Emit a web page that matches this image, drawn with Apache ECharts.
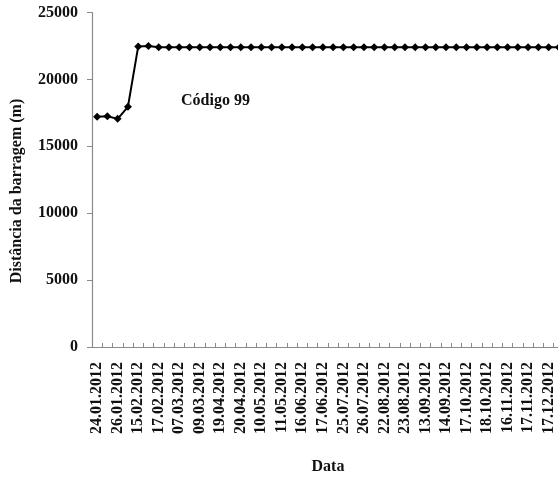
<!DOCTYPE html>
<html>
<head>
<meta charset="utf-8">
<script src="https://cdn.jsdelivr.net/npm/echarts@6/dist/echarts.min.js"></script>
<style>
  html, body { margin: 0; padding: 0; background: #fff; }
  #chart { width: 558px; height: 477px; }
</style>
</head>
<body>
<div id="chart"></div>
<script>
// Dates printed under the axis (every second sampling date carries a label)
const dateLabels = [
  '24.01.2012', '26.01.2012', '15.02.2012', '17.02.2012', '07.03.2012',
  '09.03.2012', '19.04.2012', '20.04.2012', '10.05.2012', '11.05.2012',
  '16.06.2012', '17.06.2012', '25.07.2012', '26.07.2012', '22.08.2012',
  '23.08.2012', '13.09.2012', '14.09.2012', '17.10.2012', '18.10.2012',
  '16.11.2012', '17.11.2012', '17.12.2012'
];

// Distance from the dam (m) for tag "Código 99", one value per sampling date
const distancia = [
  17200, 17250, 17050, 17950, 22450, 22500, 22400, 22400, 22400, 22400,
  22400, 22400, 22400, 22400, 22400, 22400, 22400, 22400, 22400, 22400,
  22400, 22400, 22400, 22400, 22400, 22400, 22400, 22400, 22400, 22400,
  22400, 22400, 22400, 22400, 22400, 22400, 22400, 22400, 22400, 22400,
  22400, 22400, 22400, 22400, 22400, 22400
];

const yTicks = [0, 5000, 10000, 15000, 20000, 25000];

// Category list: labelled dates on even slots, unlabelled dates in between
const categories = distancia.map((_, i) => (i % 2 === 0 && dateLabels[i / 2]) ? dateLabels[i / 2] : '');

const serif = '"Liberation Serif", "DejaVu Serif", serif';

const chart = echarts.init(document.getElementById('chart'), null, { renderer: 'canvas' });

chart.setOption({
  animation: false,
  backgroundColor: '#ffffff',
  grid: {
    left: 92, top: 12.5, bottom: 130, right: -6,
    containLabel: false,
    outerBoundsMode: 'none'
  },
  xAxis: {
    type: 'category',
    data: categories,
    boundaryGap: true,
    name: 'Data',
    nameLocation: 'middle',
    nameGap: 112,
    nameTextStyle: { fontFamily: serif, fontWeight: 'bold', fontSize: 16, color: '#111' },
    axisLine: { lineStyle: { color: '#8a8a8a', width: 1.2 } },
    axisTick: { show: true, inside: true, length: 4, interval: 0, lineStyle: { color: '#8a8a8a' } },
    axisLabel: {
      interval: 0,
      rotate: 90,
      margin: 15,
      fontFamily: serif,
      fontWeight: 'bold',
      fontSize: 16,
      color: '#111'
    },
    splitLine: { show: false }
  },
  yAxis: {
    type: 'value',
    min: yTicks[0],
    max: yTicks[yTicks.length - 1],
    interval: yTicks[1] - yTicks[0],
    axisLine: { show: true, lineStyle: { color: '#8a8a8a', width: 1.2 } },
    axisTick: { show: true, length: 5, lineStyle: { color: '#8a8a8a' } },
    axisLabel: {
      margin: 14,
      formatter: (v) => String(v),
      fontFamily: serif,
      fontWeight: 'bold',
      fontSize: 16,
      color: '#111'
    },
    splitLine: { show: false }
  },
  series: [{
    type: 'line',
    data: distancia,
    clip: false,
    symbol: 'diamond',
    symbolSize: 8,
    lineStyle: { color: '#000', width: 2 },
    itemStyle: { color: '#000' }
  }],
  graphic: [
    {
      type: 'text',
      left: 181,
      top: 93,
      style: { text: 'Código 99', font: 'bold 16px ' + serif, fill: '#111' }
    },
    {
      type: 'text',
      x: 9,
      y: 191,
      rotation: Math.PI / 2,
      style: {
        text: 'Distância da barragem (m)',
        font: 'bold 16px ' + serif,
        fill: '#111',
        align: 'center',
        verticalAlign: 'top'
      }
    }
  ]
});
</script>
</body>
</html>
